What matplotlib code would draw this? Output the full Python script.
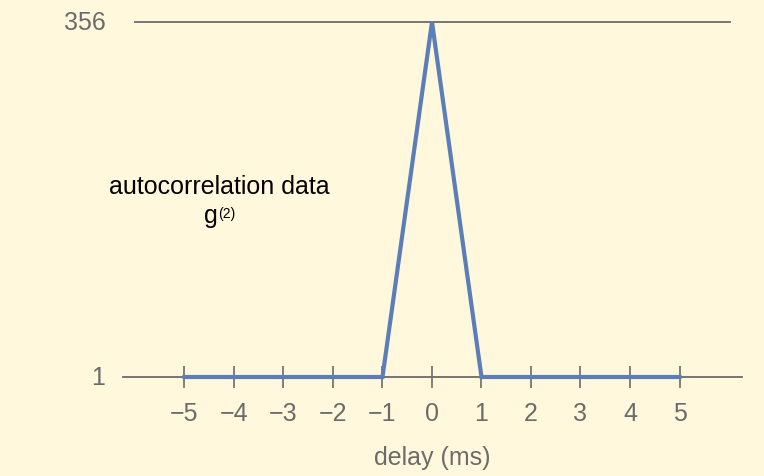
import numpy as np
import matplotlib.pyplot as plt

plt.rcParams['font.family'] = ['Liberation Sans', 'DejaVu Sans']

# g2 autocorrelation vs delay
delay = [-5, -4, -3, -2, -1, 0, 1, 2, 3, 4, 5]
g2 = [1, 1, 1, 1, 1, 356, 1, 1, 1, 1, 1]
tick_vals = [-5, -4, -3, -2, -1, 0, 1, 2, 3, 4, 5]
tick_text = ['\u22125', '\u22124', '\u22123', '\u22122', '\u22121', '0', '1', '2', '3', '4', '5']
y_marks = [1, 356]

bg = '#fff8dc'
grey = '#6b6b6b'
blue = '#5b7db8'

fig = plt.figure(figsize=(7.64, 4.77), dpi=100, facecolor=bg)
ax = fig.add_axes([0, 0, 1, 1], facecolor=bg)
ax.set_xlim(-8.727, 6.707)
ax.set_ylim(-98, 379)

for s in ['top', 'right', 'left']:
    ax.spines[s].set_visible(False)
ax.spines['bottom'].set_position(('data', y_marks[0]))
ax.spines['bottom'].set_bounds(-6.24, 6.26)
ax.spines['bottom'].set_color(grey)
ax.spines['bottom'].set_linewidth(1.3)

# top reference line at the peak value
ax.plot([-6.0, 6.02], [y_marks[1], y_marks[1]], color=grey, lw=1.3, zorder=1)

ax.plot(delay, g2, color=blue, lw=3.0, zorder=3, solid_joinstyle='miter')

ax.set_xticks(tick_vals)
ax.set_xticklabels(tick_text)
ax.tick_params(axis='x', direction='inout', length=16, width=1.2, color=grey,
               labelcolor=grey, labelsize=18, pad=9)
ax.set_yticks([])

ax.text(-6.6, y_marks[0], str(y_marks[0]), color=grey, fontsize=18,
        ha='right', va='center')
ax.text(-6.6, y_marks[1], str(y_marks[1]), color=grey, fontsize=18,
        ha='right', va='center')

ax.text(0, -79, 'delay (ms)', color=grey, fontsize=18, ha='center', va='center')

ax.text(-4.3, 192, 'autocorrelation data', color='black', fontsize=18,
        ha='center', va='center')
# g with a small (2) superscript
ax.text(-4.46, 156, 'g', color='black', fontsize=18, ha='center', va='baseline')
ax.text(-4.32, 165, '(2)', color='black', fontsize=10, ha='left', va='center')

fig.savefig('out.png', dpi=100, facecolor=bg)
